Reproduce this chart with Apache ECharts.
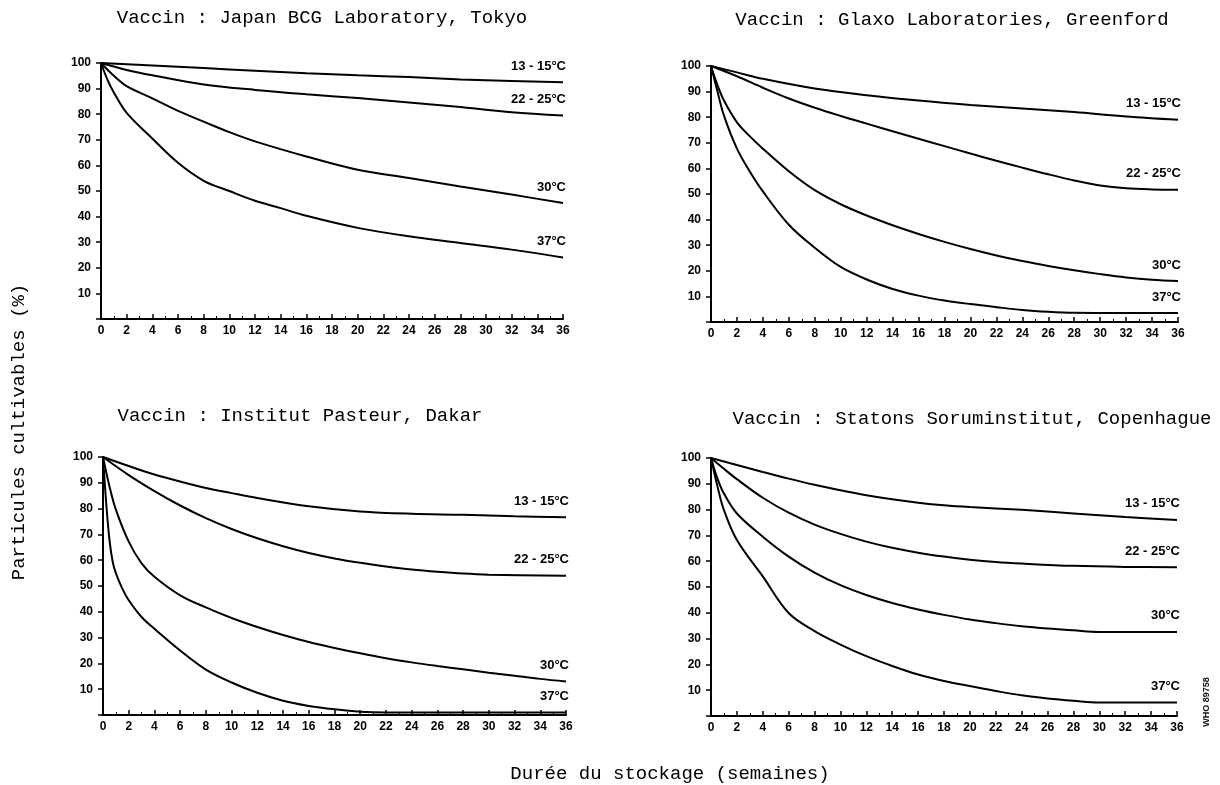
<!DOCTYPE html>
<html><head><meta charset="utf-8">
<script src="https://cdn.jsdelivr.net/npm/echarts@6/dist/echarts.min.js"></script>
<style>html,body{margin:0;padding:0;background:#fff}#c{width:1220px;height:785px}</style>
</head><body><div id="c"></div>
<script>
const panelTitles = [
  'Vaccin : Japan BCG Laboratory, Tokyo',
  'Vaccin : Glaxo Laboratories, Greenford',
  'Vaccin : Institut Pasteur, Dakar',
  'Vaccin : Statons Soruminstitut, Copenhague'
];
const tempNames = ['13 - 15°C', '22 - 25°C', '30°C', '37°C'];
const yAxisTitle = 'Particules cultivables (%)';
const xAxisTitle = 'Durée du stockage (semaines)';
const creditText = 'WHO 89758';

// Tokyo
const tokyoW13 = [0, 4, 8, 12, 16, 20, 24, 28, 32, 36];
const tokyoV13 = [100, 99, 98, 97, 96, 95.2, 94.5, 93.6, 93, 92.5];
const tokyoW22 = [0, 2, 4, 8, 12, 16, 20, 24, 28, 32, 36];
const tokyoV22 = [100, 97.3, 95.2, 91.6, 89.5, 87.8, 86.3, 84.6, 82.8, 80.8, 79.5];
const tokyoW30 = [0, 1, 2, 4, 6, 8, 10, 12, 16, 20, 24, 28, 32, 36];
const tokyoV30 = [100, 95, 91, 86.2, 81.3, 77.1, 73, 69.4, 63.5, 58.3, 55.1, 51.8, 48.6, 45.3];
const tokyoW37 = [0, 0.5, 1, 2, 4, 6, 8, 10, 12, 14, 16, 20, 24, 28, 32, 36];
const tokyoV37 = [100, 93.5, 88.5, 80.5, 70.5, 61, 54, 50, 46.2, 43.3, 40.3, 35.6, 32.3, 29.7, 27.1, 24];

// Glaxo
const glaxoW13 = [0, 2, 4, 8, 12, 16, 20, 24, 28, 32, 36];
const glaxoV13 = [100, 97.5, 95, 91.2, 88.6, 86.5, 84.8, 83.4, 82, 80.3, 79];
const glaxoW22 = [0, 2, 4, 6, 8, 10, 12, 14, 16, 18, 20, 22, 24, 26, 28, 30, 32, 34, 36];
const glaxoV22 = [100, 96, 91.5, 87.3, 83.7, 80.5, 77.5, 74.5, 71.6, 68.7, 65.8, 63, 60.3, 57.7, 55.3, 53.3, 52.2, 51.8, 51.7];
const glaxoW30 = [0, 0.5, 1, 2, 3, 4, 6, 8, 10, 12, 14, 16, 18, 20, 22, 24, 26, 28, 30, 32, 34, 36];
const glaxoV30 = [100, 92.5, 86.5, 78, 72.5, 67.7, 58.9, 51.5, 46, 41.6, 37.8, 34.4, 31.3, 28.5, 26, 23.8, 21.9, 20.2, 18.7, 17.4, 16.5, 16];
const glaxoW37 = [0, 0.5, 1, 2, 3, 4, 6, 8, 10, 12, 14, 16, 18, 20, 22, 24, 26, 28, 32, 36];
const glaxoV37 = [100, 90, 80.6, 67.7, 58.7, 51, 38, 29, 21.5, 16.6, 12.9, 10.3, 8.4, 7, 5.8, 4.7, 4, 3.6, 3.5, 3.5];

// Dakar
const dakarW13 = [0, 2, 4, 6, 8, 10, 12, 16, 20, 24, 28, 32, 36];
const dakarV13 = [100, 96.5, 93.2, 90.5, 88, 86, 84.1, 80.9, 78.9, 78, 77.6, 77, 76.6];
const dakarW22 = [0, 2, 4, 6, 8, 10, 12, 14, 16, 18, 20, 22, 24, 26, 28, 30, 36];
const dakarV22 = [100, 93, 86.8, 81.2, 76.3, 72.1, 68.5, 65.4, 62.8, 60.7, 59, 57.6, 56.4, 55.5, 54.8, 54.4, 54];
const dakarW30 = [0, 0.5, 1, 2, 3, 4, 6, 8, 10, 12, 14, 16, 18, 20, 22, 24, 26, 28, 30, 32, 34, 36];
const dakarV30 = [100, 88.7, 79.6, 67.2, 58.8, 53.6, 46.4, 41.7, 37.6, 34.1, 31, 28.3, 26, 23.9, 22, 20.4, 19, 17.7, 16.4, 15.2, 14, 13];
const dakarW37 = [0, 0.25, 0.5, 0.75, 1, 1.5, 2, 3, 4, 6, 8, 10, 12, 14, 16, 18, 20, 22, 36];
const dakarV37 = [100, 82, 68, 59.5, 55, 49, 44.5, 38, 33.4, 25, 17.6, 12.6, 8.6, 5.5, 3.5, 2.2, 1.3, 1, 1];

// Copenhague
const copW13 = [0, 2, 4, 6, 8, 10, 12, 14, 16, 18, 20, 24, 28, 32, 36];
const copV13 = [100, 97.3, 94.6, 92, 89.6, 87.5, 85.6, 84, 82.7, 81.7, 81, 79.9, 78.5, 77.1, 76];
const copW22 = [0, 1, 2, 4, 6, 8, 10, 12, 14, 16, 18, 20, 22, 24, 28, 32, 36];
const copV22 = [100, 95.8, 91.8, 84.6, 78.8, 74.2, 70.6, 67.6, 65.2, 63.3, 61.8, 60.6, 59.7, 59.1, 58.2, 57.8, 57.7];
const copW30 = [0, 0.5, 1, 2, 4, 6, 8, 10, 12, 14, 16, 18, 20, 22, 24, 26, 28, 30, 36];
const copV30 = [100, 92, 86.2, 78.5, 69.5, 61.8, 55.6, 50.7, 46.9, 43.8, 41.3, 39.2, 37.4, 36, 34.8, 33.9, 33.2, 32.6, 32.6];
const copW37 = [0, 0.5, 1, 2, 4, 6, 8, 10, 12, 14, 16, 18, 20, 22, 24, 26, 28, 30, 36];
const copV37 = [100, 89, 79.8, 68.2, 54.1, 39.9, 32.9, 27.7, 23.2, 19.4, 16.1, 13.6, 11.6, 9.7, 8, 6.8, 5.9, 5.2, 5.2];

const panels = [
  [[tokyoW13, tokyoV13], [tokyoW22, tokyoV22], [tokyoW30, tokyoV30], [tokyoW37, tokyoV37]],
  [[glaxoW13, glaxoV13], [glaxoW22, glaxoV22], [glaxoW30, glaxoV30], [glaxoW37, glaxoV37]],
  [[dakarW13, dakarV13], [dakarW22, dakarV22], [dakarW30, dakarV30], [dakarW37, dakarV37]],
  [[copW13, copV13], [copW22, copV22], [copW30, copV30], [copW37, copV37]]
];

const grids = [
  {left: 101, top: 63, width: 462, height: 256},
  {left: 711, top: 66, width: 467, height: 256},
  {left: 103, top: 457, width: 463, height: 258},
  {left: 711, top: 458, width: 466, height: 258}
];
const titlePos = [[322, 18], [952, 20], [300, 416], [972, 419]];

const tickFont = {fontFamily: 'Liberation Sans', fontWeight: 'bold', fontSize: 12, color: '#000'};
const xAxes = [], yAxes = [], series = [];
grids.forEach((g, i) => {
  xAxes.push({
    type: 'value', gridIndex: i, min: 0, max: 36, interval: 2,
    axisLine: {show: true, onZero: false, lineStyle: {color: '#000', width: 2}},
    axisTick: {show: true, inside: true, length: 5, lineStyle: {color: '#000', width: 1.5}},
    minorTick: {show: true, splitNumber: 2, length: 3, lineStyle: {color: '#000', width: 1}},
    axisLabel: Object.assign({margin: 6}, tickFont),
    splitLine: {show: false}
  });
  yAxes.push({
    type: 'value', gridIndex: i, min: 0, max: 100, interval: 10,
    axisLine: {show: true, onZero: false, lineStyle: {color: '#000', width: 2}},
    axisTick: {show: true, inside: false, length: 5, lineStyle: {color: '#000', width: 1.5}},
    axisLabel: Object.assign({margin: 10, formatter: v => v === 0 ? '' : String(v)}, tickFont),
    splitLine: {show: false}
  });
  panels[i].forEach((pair, t) => {
    const [w, v] = pair;
    const data = w.map((x, k) => {
      const item = {value: [x, v[k]]};
      if (k === w.length - 1) {
        item.label = {
          show: true, formatter: tempNames[t], position: [3, -16],
          align: 'right', verticalAlign: 'middle',
          fontFamily: 'Liberation Sans', fontWeight: 'bold', fontSize: 13, color: '#000'
        };
      }
      return item;
    });
    series.push({
      type: 'line', name: tempNames[t], xAxisIndex: i, yAxisIndex: i,
      data: data, smooth: 0.35,
      symbol: 'circle', symbolSize: 0, showSymbol: true, clip: false,
      lineStyle: {color: '#000', width: 2}, itemStyle: {color: '#000'},
      label: {show: false}, silent: true, animation: false
    });
  });
});

const monoFont = 'Liberation Mono';
const graphics = [];
panelTitles.forEach((t, i) => {
  graphics.push({type: 'text', x: titlePos[i][0], y: titlePos[i][1],
    style: {text: t, align: 'center', verticalAlign: 'middle', font: '19px "' + monoFont + '"', fill: '#000'}});
});
graphics.push({type: 'text', x: 670, y: 774,
  style: {text: xAxisTitle, align: 'center', verticalAlign: 'middle', font: '19px "' + monoFont + '"', fill: '#000'}});
graphics.push({type: 'text', x: 19, y: 432, rotation: Math.PI / 2,
  style: {text: yAxisTitle, align: 'center', verticalAlign: 'middle', font: '19px "' + monoFont + '"', fill: '#000'}});
graphics.push({type: 'text', x: 1207, y: 702, rotation: Math.PI / 2,
  style: {text: creditText, align: 'center', verticalAlign: 'middle', font: 'bold 9px "Liberation Sans"', fill: '#111'}});

const chart = echarts.init(document.getElementById('c'), null, {renderer: 'canvas'});
chart.setOption({
  backgroundColor: '#fff', animation: false,
  grid: grids, xAxis: xAxes, yAxis: yAxes, series: series, graphic: graphics
});
</script>
</body></html>
